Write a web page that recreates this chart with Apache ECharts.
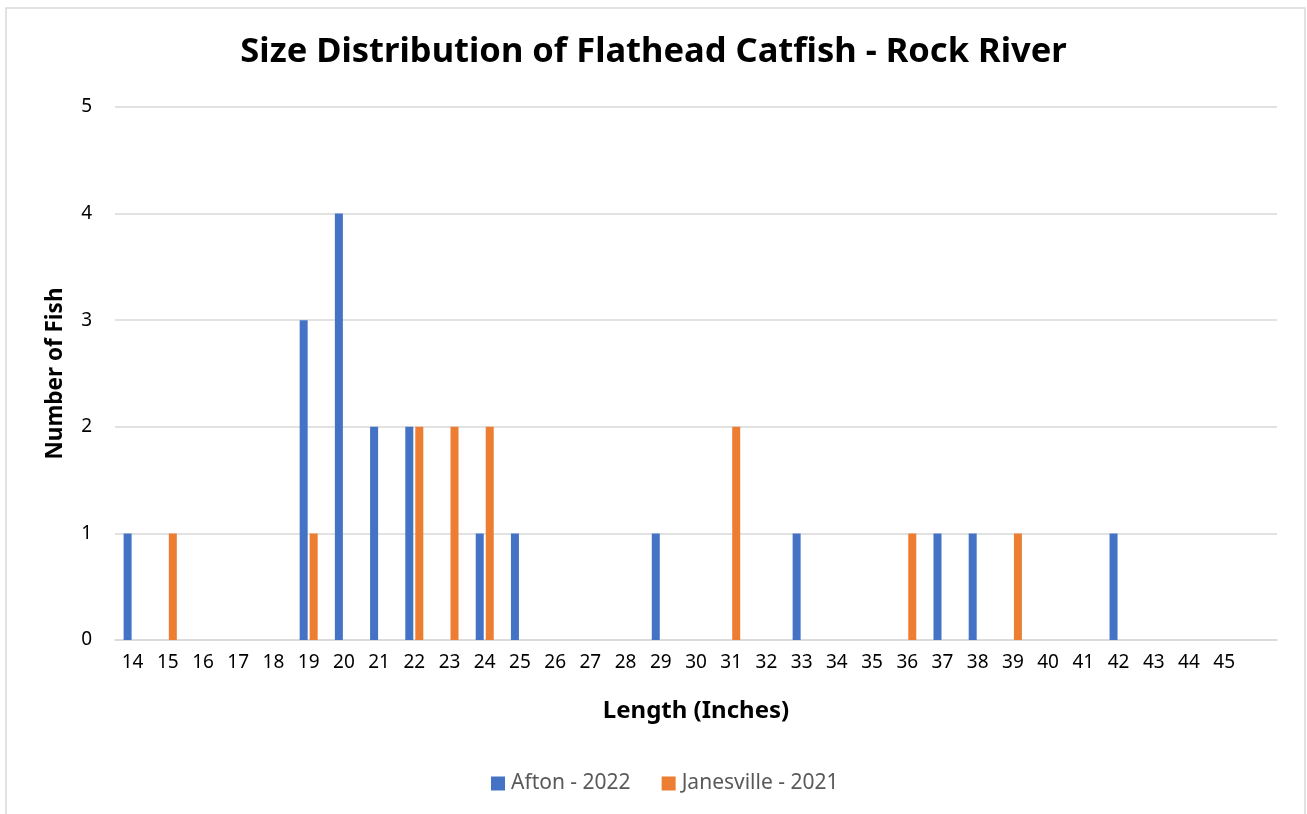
<!DOCTYPE html>
<html>
<head>
<meta charset="utf-8">
<title>Size Distribution of Flathead Catfish - Rock River</title>
<script src="https://cdn.jsdelivr.net/npm/echarts@6/dist/echarts.min.js"></script>
<style>
  html, body { margin: 0; padding: 0; background: #fff; }
  #main { width: 1307px; height: 814px; }
</style>
</head>
<body>
<div id="main"></div>
<script>
// length classes in inches (last slot is an empty category, as in the sheet)
var lengths = ['14','15','16','17','18','19','20','21','22','23','24','25','26','27','28','29',
               '30','31','32','33','34','35','36','37','38','39','40','41','42','43','44','45',''];
// number of fish per length
var afton2022 = [1,0,0,0,0,3,4,2,2,0,1,1,0,0,0,1,0,0,0,1,0,0,0,1,1,0,0,0,1,0,0,0,0];
var janesville2021 = [0,1,0,0,0,1,0,0,2,2,2,0,0,0,0,0,0,2,0,0,0,0,1,0,0,1,0,0,0,0,0,0,0];
var yTicks = [0, 5, 1]; // min, max, step

var font = '"Noto Sans", sans-serif';
var chart = echarts.init(document.getElementById('main'));
chart.setOption({
  animation: false,
  backgroundColor: '#fff',
  textStyle: { fontFamily: font },
  graphic: [{
    type: 'rect',
    shape: { x: 6, y: 8, width: 1299, height: 830 },
    style: { fill: 'none', stroke: '#d9d9d9', lineWidth: 1.5 },
    silent: true
  }],
  title: {
    text: 'Size Distribution of Flathead Catfish - Rock River',
    left: 'center',
    top: 30,
    textStyle: { fontFamily: font, fontSize: 34.5, fontWeight: 'bold', color: '#000' }
  },
  legend: {
    top: 768,
    left: 486,
    itemWidth: 14,
    itemHeight: 14,
    itemGap: 31,
    icon: 'rect',
    textStyle: { fontFamily: font, fontSize: 21, color: '#595959', padding: [0, 0, 0, 1] },
    data: ['Afton - 2022', 'Janesville - 2021']
  },
  grid: { left: 115, right: 30, top: 107, bottom: 174, containLabel: false },
  xAxis: {
    type: 'category',
    data: lengths,
    name: 'Length (Inches)',
    nameLocation: 'middle',
    nameGap: 59,
    nameTextStyle: { fontFamily: font, fontSize: 24, fontWeight: 'bold', color: '#000' },
    axisLine: { show: true, lineStyle: { color: '#d9d9d9', width: 1.5 } },
    axisTick: { show: false },
    axisLabel: { interval: 0, margin: 13, fontFamily: font, fontSize: 19, color: '#000' }
  },
  yAxis: {
    type: 'value',
    min: yTicks[0],
    max: yTicks[1],
    interval: yTicks[2],
    name: 'Number of Fish',
    nameLocation: 'middle',
    nameGap: 48,
    nameTextStyle: { fontFamily: font, fontSize: 22.5, fontWeight: 'bold', color: '#000' },
    axisLine: { show: false },
    axisTick: { show: false },
    axisLabel: { margin: 23, fontFamily: font, fontSize: 19, color: '#000' },
    splitLine: { lineStyle: { color: '#d9d9d9', width: 1.5 } }
  },
  series: [
    {
      name: 'Afton - 2022',
      type: 'bar',
      data: afton2022,
      barWidth: 8,
      barGap: '25%',
      itemStyle: { color: '#4472C4' }
    },
    {
      name: 'Janesville - 2021',
      type: 'bar',
      data: janesville2021,
      barWidth: 8,
      barGap: '25%',
      itemStyle: { color: '#ED7D31' }
    }
  ]
});
</script>
</body>
</html>
